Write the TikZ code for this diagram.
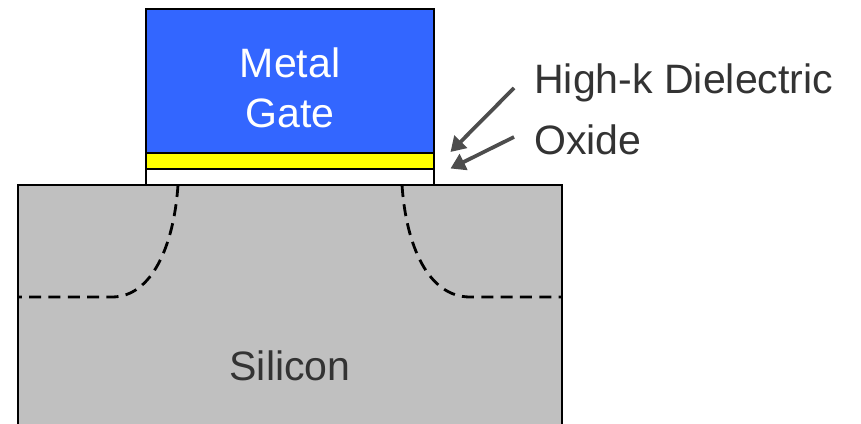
\documentclass[tikz,border=0pt]{standalone}
\usepackage{xcolor}
\usepackage{fontspec}
\setmainfont{Liberation Sans}
\usetikzlibrary{positioning, arrows.meta, calc}
\definecolor{gateblue}{HTML}{3366FF}
\definecolor{highkyellow}{HTML}{FFFF00}
\definecolor{silicongray}{HTML}{C0C0C0}
\definecolor{labelgray}{HTML}{333333}
\definecolor{arrowgray}{HTML}{4D4D4D}
\tikzset{
  layer/.style={draw=black, line width=1.9pt, inner sep=0pt, outer sep=0pt, anchor=north west},
  label/.style={text=labelgray, font=\fontsize{30.8pt}{37.5pt}\selectfont, inner sep=0pt},
  pointer/.style={draw=arrowgray, line width=2.8pt, -{Triangle[length=11pt, width=13pt]}},
  junction/.style={draw=black, line width=2.1pt, dash pattern=on 9pt off 5.5pt}
}

\begin{document}
\begin{tikzpicture}[x=0.75pt, y=-0.75pt]
    \useasboundingbox (0,0) rectangle (861,424);
    \node[layer, fill=silicongray, minimum width=408pt, minimum height=180.4pt] (silicon) at (18,185) {};
    \node[layer, fill=gateblue, minimum width=216pt, minimum height=108pt] (gate) at (146,9) {};
    \node[layer, fill=highkyellow, minimum width=216pt, minimum height=12pt] (highk) at (146,153) {};
    \node[layer, fill=white, minimum width=216pt, minimum height=12pt] (oxide) at (146,169) {};
    \node[label, text=white, align=center, anchor=base] (gatetext) at (290,127.5) {Metal\\Gate};
    \node[label, anchor=base] (silicontext) at (290,380.5) {Silicon};
    \node[label, anchor=base west] (highktext) at (534,93.5) {High-k Dielectric};
    \node[label, anchor=base west] (oxidetext) at (534,154.5) {Oxide};
    \coordinate (highkstart) at (514,88);
    \coordinate (highkend) at (450.5,152);
    \coordinate (oxidestart) at (514,137);
    \coordinate (oxideend) at (450.5,168.5);
    \draw[pointer] (highkstart) -- (highkend);
    \draw[pointer] (oxidestart) -- (oxideend);
    % junction edges
    \coordinate (leftedge) at (silicon.west |- 0,297);
    \coordinate (rightedge) at (silicon.east |- 0,297);
    \draw[junction] (178,185) .. controls (174,245) and (152,297) .. (112,297) -- (leftedge);
    \draw[junction] (402,185) .. controls (406,245) and (428,297) .. (470,297) -- (rightedge);
  \end{tikzpicture}
\end{document}
